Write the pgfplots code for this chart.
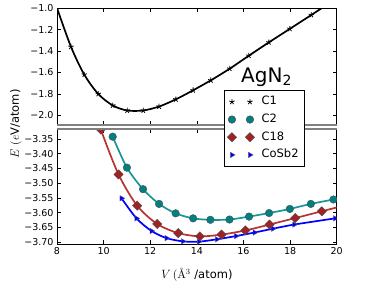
\documentclass[border=0pt]{standalone}
\usepackage{fontspec}
\setmainfont{DejaVu Sans}
\newfontfamily\lmr{lmroman10-regular.otf}
\usepackage{pgfplots}
\pgfplotsset{compat=1.18}

\definecolor{tealm}{RGB}{0,128,128}
\definecolor{teall}{RGB}{25,150,150}
\definecolor{redm}{RGB}{160,35,35}
\definecolor{redl}{RGB}{185,50,50}
\definecolor{bluem}{RGB}{0,0,255}

\pgfplotsset{
  brk/.style={scale only axis, width=279.7pt, xmin=8, xmax=20,
    xtick={8,10,12,14,16,18,20}, tick align=inside, major tick length=4pt,
    ticklabel style={font=\fontsize{9.5}{10}\selectfont},
    axis line style={line width=0.8pt},
    tick style={line width=0.6pt, black}},
  twomk/.style={legend image code/.code={\draw[##1] plot[only marks] coordinates {(0pt,0pt) (18pt,0pt)};}},
  c1mk/.style={black, only marks, mark=star, mark size=2.8pt, mark options={black, line width=0.8pt}, twomk},
  c2mk/.style={only marks, mark=*, mark size=3.8pt, mark options={fill=tealm, draw=black!70, line width=0.4pt}, draw=black!70, twomk},
  c18mk/.style={only marks, mark=square*, mark size=3.3pt, mark options={rotate=45, fill=redm, draw=black!70, line width=0.4pt}, draw=black!70, twomk},
  cosmk/.style={only marks, mark=triangle*, mark size=3.2pt, mark options={rotate=-90, fill=bluem, draw=black!60, line width=0.3pt}, draw=black!60, twomk},
}

\begin{document}
\begin{tikzpicture}
\path[use as bounding box] (0,0) rectangle (374pt,282pt);

% ---------- top axis ----------
\begin{axis}[brk, at={(57pt,274pt)}, anchor=north west, height=117.2pt,
  ymin=-2.091, ymax=-1.0,
  ytick={-2.0,-1.8,-1.6,-1.4,-1.2,-1.0},
  yticklabels={−2.0,−1.8,−1.6,−1.4,−1.2,−1.0},
  xticklabels={},
  after end axis/.code={\draw[gray, line width=1.5pt] (rel axis cs:0,0)--(rel axis cs:1,0);}]
\addplot[black, line width=1.7pt, smooth, forget plot] coordinates {
(8.00,-1.000) (8.60,-1.361) (9.17,-1.620) (9.77,-1.800) (10.39,-1.907) (11.01,-1.954)
(11.70,-1.954) (12.38,-1.917) (13.10,-1.850) (13.84,-1.766) (14.60,-1.673) (15.41,-1.565)
(16.23,-1.444) (17.09,-1.320) (17.99,-1.194) (18.91,-1.065) (19.40,-0.995)};
\addplot[c1mk] coordinates {
(8.60,-1.361) (9.17,-1.620) (9.77,-1.800) (10.39,-1.907) (11.01,-1.954)
(11.70,-1.954) (12.38,-1.917) (13.10,-1.850) (13.84,-1.766) (14.60,-1.673) (15.41,-1.565)
(16.23,-1.444) (17.09,-1.320) (17.99,-1.194) (18.91,-1.065)};
\end{axis}

% ---------- bottom axis ----------
\begin{axis}[brk, at={(57pt,153pt)}, anchor=north west, height=115.3pt,
  ymin=-3.707, ymax=-3.316,
  ytick={-3.70,-3.65,-3.60,-3.55,-3.50,-3.45,-3.40,-3.35},
  yticklabels={−3.70,−3.65,−3.60,−3.55,−3.50,−3.45,−3.40,−3.35},
  xticklabels={8,10,12,14,16,18,20},
  clip marker paths=true,
  legend style={at={(0.597,1.338)}, anchor=north west, draw=black, fill=white,
    line width=0.6pt, inner sep=3pt, row sep=0.7pt,
    font=\fontsize{11.5}{13}\selectfont,
    nodes={text height=8.5pt, text depth=2.5pt, inner sep=3pt},
    /tikz/every odd column/.append style={column sep=4pt}},
  legend cell align=left,
  after end axis/.code={\draw[gray, line width=1.5pt] (rel axis cs:0,1)--(rel axis cs:1,1);}]
\addlegendimage{c1mk}
\addlegendentry{C1}
\addplot[teall, line width=1.7pt, smooth, forget plot] coordinates {
(10.39,-3.342) (11.00,-3.447) (11.69,-3.520) (12.38,-3.570) (13.09,-3.602) (13.84,-3.619)
(14.58,-3.624) (15.40,-3.623) (16.24,-3.613) (17.10,-3.601) (17.99,-3.587) (18.89,-3.570)
(19.86,-3.555) (20.00,-3.552)};
\addplot[redl, line width=1.7pt, smooth, forget plot] coordinates {
(9.70,-3.270) (9.88,-3.318) (10.64,-3.470) (11.44,-3.576) (12.30,-3.638) (13.20,-3.669)
(14.13,-3.680) (15.06,-3.674) (16.08,-3.660) (17.12,-3.640) (18.22,-3.618) (19.36,-3.595)
(20.00,-3.582)};
\addplot[bluem, line width=1.7pt, smooth, forget plot] coordinates {
(10.77,-3.551) (11.41,-3.619) (12.06,-3.662) (12.70,-3.686) (13.40,-3.697) (14.09,-3.698)
(14.86,-3.690) (15.68,-3.679) (16.48,-3.667) (17.27,-3.654) (18.18,-3.640) (19.93,-3.619)
(20.00,-3.618)};
\addplot[c2mk] coordinates {
(10.39,-3.342) (11.00,-3.447) (11.69,-3.520) (12.38,-3.570) (13.09,-3.602) (13.84,-3.619)
(14.58,-3.624) (15.40,-3.623) (16.24,-3.613) (17.10,-3.601) (17.99,-3.587) (18.89,-3.570)
(19.86,-3.555)};
\addlegendentry{C2}
\addplot[c18mk] coordinates {
(9.88,-3.318) (10.64,-3.470) (11.44,-3.576) (12.30,-3.638) (13.20,-3.669)
(14.13,-3.680) (15.06,-3.674) (16.08,-3.660) (17.12,-3.640) (18.22,-3.618) (19.36,-3.595)};
\addlegendentry{C18}
\addplot[cosmk] coordinates {
(10.77,-3.551) (11.41,-3.619) (12.06,-3.662) (12.70,-3.686) (13.40,-3.697) (14.09,-3.698)
(14.86,-3.690) (15.68,-3.679) (16.48,-3.667) (17.27,-3.654) (18.18,-3.640) (19.93,-3.619)};
\addlegendentry{CoSb2}
\end{axis}

\node[anchor=base west, font=\fontsize{20}{24}\selectfont, inner sep=0pt] at (241pt,200pt) {AgN\textsubscript{2}};
\node[font=\fontsize{11.5}{13}\selectfont, inner sep=0pt] at (197pt,7pt) {$V$\,{\lmr(Å}$^{3}$ /atom)};
\node[rotate=90, font=\fontsize{11.5}{13}\selectfont, inner sep=0pt] at (16pt,158pt) {$E$ {\lmr(}$e$V/atom)};
\end{tikzpicture}
\end{document}
